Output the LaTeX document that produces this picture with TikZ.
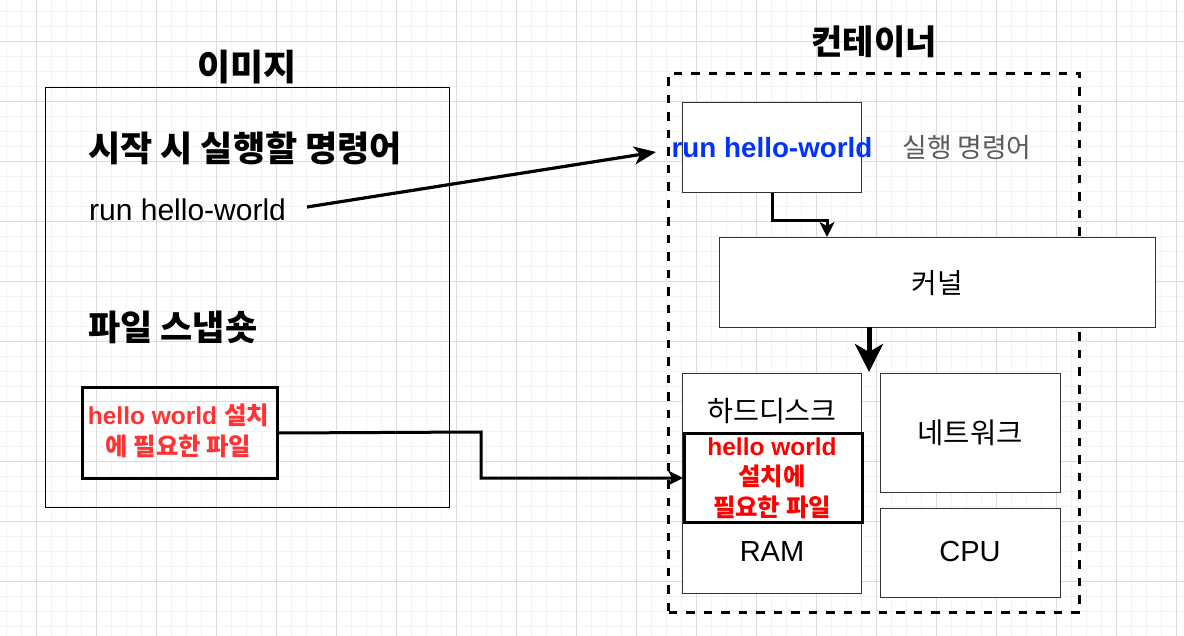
\documentclass[tikz,border=0pt]{standalone}
\usepackage{fontspec}
\setmainfont{Liberation Sans}
\newfontfamily\kr{Noto Sans CJK KR}
\usetikzlibrary{arrows.meta}
\definecolor{gridminor}{HTML}{F3F3F3}
\definecolor{gridmajor}{HTML}{DCDCDC}
\definecolor{boxline}{HTML}{333333}
\definecolor{redA}{HTML}{FF3333}
\definecolor{redB}{HTML}{FF0000}
\definecolor{blueA}{HTML}{0033FF}
\definecolor{grayA}{HTML}{5A5A5A}
\newcommand\fs[1]{\fontsize{#1}{#1}\selectfont}
\newcommand\K[1]{{\kr #1}}
\tikzset{
  minorline/.style={draw=gridminor,line width=1pt},
  majorline/.style={draw=gridmajor,line width=1pt},
  plainbox/.style={draw=boxline,line width=1.3pt,fill=white,inner sep=0pt,anchor=north west},
  redbox/.style={draw=black,line width=3pt,inner sep=0pt,anchor=north west},
  conn/.style={draw=black,line width=3.2pt,-{Stealth[length=22pt,width=18pt,inset=6pt]}},
  elbow/.style={draw=black,line width=3pt,-{Stealth[length=15pt,width=15pt,inset=4pt]}},
  txt/.style={inner sep=0pt},
}
\begin{document}
\begin{tikzpicture}[x=1pt,y=-1pt]
\useasboundingbox (0,0) rectangle (1184,636);
\fill[white] (0,0) rectangle (1184,636);
% grid
\foreach \x in {6.7,21.7,...,1184} \draw[minorline] (\x,0) -- (\x,636);
\foreach \y in {11.7,26.7,...,636} \draw[minorline] (0,\y) -- (1184,\y);
\foreach \x in {36.7,96.7,...,1184} \draw[majorline] (\x,0) -- (\x,636);
\foreach \y in {41.7,101.7,...,636} \draw[majorline] (0,\y) -- (1184,\y);

% left image box
\node[txt,font=\kr\bfseries\fs{36}] (imgtitle) at (247,67) {이미지};
\node[draw=black,line width=1.3pt,inner sep=0pt,anchor=north west,minimum width=404pt,minimum height=420pt] (img) at (45,87) {};
\node[txt,anchor=west,font=\kr\bfseries\fs{35}] (cmdhead) at (88,148) {시작 시 실행할 명령어};
\node[txt,anchor=base west,font=\fs{30}] (cmd) at (89,221) {run hello-world};
\node[txt,anchor=west,font=\kr\bfseries\fs{35}] (snaphead) at (88,327) {파일 스냅숏};
\node[redbox,minimum width=195pt,minimum height=91pt] (files) at (81,386) {};
\node[txt,text=redA,font=\bfseries\fs{24.5}] (filesA) at (178.5,415) {hello world \K{설치}};
\node[txt,text=redA,font=\kr\bfseries\fs{24.3}] (filesB) at (178.5,446) {에 필요한 파일};

% container
\node[txt,font=\kr\bfseries\fs{34}] (cttitle) at (874,42) {컨테이너};
\node[draw=black,line width=3pt,dash pattern=on 8.5pt off 9pt,inner sep=0pt,anchor=north west,minimum width=411pt,minimum height=539pt] (ct) at (667,72) {};
\node[plainbox,minimum width=179pt,minimum height=90pt] (run) at (682,102) {};
\node[txt,text=blueA,font=\bfseries\fs{27.8}] (runtxt) at (772,148) {run hello-world};
\node[txt,text=grayA,font=\kr\fs{26.8}] (runlbl) at (967,148) {실행 명령어};
\node[plainbox,minimum width=436pt,minimum height=90pt] (kernel) at (719,237) {};
\node[txt,font=\kr\fs{27.8}] (kerneltxt) at (937,283) {커널};
\node[plainbox,minimum width=179pt,minimum height=220pt] (disk) at (682,373) {};
\node[txt,font=\kr\fs{28.2}] (disktxt) at (772,411) {하드디스크};
\node[redbox,minimum width=178pt,minimum height=89pt] (dfiles) at (683,432) {};
\node[txt,text=redB,font=\bfseries\fs{24.5}] (dfA) at (772,447) {hello world};
\node[txt,text=redB,font=\kr\bfseries\fs{24.4}] (dfB) at (772,476) {설치에};
\node[txt,text=redB,font=\kr\bfseries\fs{24.4}] (dfC) at (772,507) {필요한 파일};
\node[txt,font=\fs{29}] (ram) at (772,552) {RAM};
\node[plainbox,minimum width=180pt,minimum height=119pt] (net) at (880,373) {};
\node[txt,font=\kr\fs{28.6}] (nettxt) at (970,433) {네트워크};
\node[plainbox,minimum width=180pt,minimum height=89pt] (cpu) at (880,508) {};
\node[txt,font=\fs{29}] (cputxt) at (970,552) {CPU};

% connectors
\coordinate (cmdend) at (307,207);
\coordinate (runin) at (656,152);
\draw[conn] (cmdend) -- (runin);
\coordinate (kbend) at (827,221);
\coordinate (kin) at (827,237);
\draw[elbow] (run.south) |- (kbend) -- (kin);
\coordinate (kout) at (869,327);
\coordinate (dtop) at (869,372);
\draw[draw=black,line width=5pt,-{Stealth[length=28pt,width=28pt,inset=8pt]}] (kout) -- (dtop);
\coordinate (fout) at (files.east);
\coordinate (mid) at (481,432);
\draw[elbow] (fout) -- (mid) |- (dfiles.west);
\end{tikzpicture}
\end{document}
